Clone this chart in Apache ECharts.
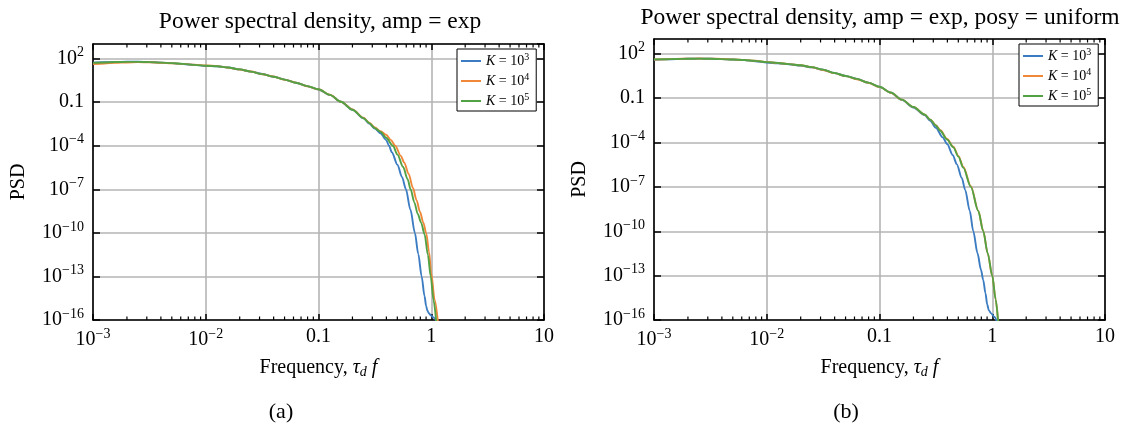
<!DOCTYPE html>
<html><head><meta charset="utf-8">
<script src="https://cdn.jsdelivr.net/npm/echarts@6/dist/echarts.min.js"></script>
<style>html,body{margin:0;padding:0;background:#fff}#c{width:1127px;height:431px}</style>
</head><body><div id="c"></div>
<script>
// ---------- data ----------
const seriesNames = ['K = 10^3', 'K = 10^4', 'K = 10^5'];
const kExponents = ['3', '4', '5'];
const panelTitles = ['Power spectral density, amp = exp', 'Power spectral density, amp = exp, posy = uniform'];
const panelCaptions = ['(a)', '(b)'];

// shared low-frequency grid (tau_d f)
const lowFreq = [0.001, 0.00126, 0.00158, 0.002, 0.00251, 0.00316, 0.00398, 0.00501, 0.00631, 0.00794,
  0.01, 0.0126, 0.0158, 0.02, 0.0251, 0.0316, 0.0398, 0.0501, 0.0631, 0.0794,
  0.1, 0.126, 0.158, 0.2, 0.251, 0.282];

// panel (a): amp = exp
const aK3LowPsd = [51, 55, 57.5, 60, 60, 57.5, 52.5, 47.9, 41.7, 36.3, 30.9, 29.5, 24.0, 17.8, 12.6, 8.7, 5.6, 3.55, 2.14, 1.26, 0.74, 0.316, 0.105, 0.030, 7.6e-3, 3.3e-3];
const aK4LowPsd = [41.7, 45.7, 50.1, 53.7, 56.2, 55.0, 51.3, 46.8, 42.7, 37.2, 33.1, 30.2, 23.4, 17.4, 12.9, 8.3, 5.75, 3.47, 2.19, 1.23, 0.76, 0.324, 0.107, 0.0316, 8.3e-3, 3.8e-3];
const aK5LowPsd = [50.1, 53.7, 57.5, 58.9, 58.9, 56.2, 52.5, 47.9, 42.7, 36.3, 31.6, 29.5, 24.0, 17.8, 12.6, 8.5, 5.6, 3.55, 2.14, 1.26, 0.76, 0.316, 0.105, 0.030, 7.8e-3, 3.55e-3];
const aK3TailFreq = [0.316, 0.355, 0.398, 0.422, 0.447, 0.501, 0.550, 0.596, 0.653, 0.716, 0.767, 0.822, 0.871, 0.902, 0.923, 0.955, 1.0, 1.059, 1.122];
const aK3TailPsd = [1.5e-3, 7.1e-4, 2.5e-4, 1e-4, 3.55e-5, 5.0e-6, 7.1e-7, 1e-7, 4.0e-9, 1e-10, 3.55e-12, 1e-13, 4.5e-15, 8.9e-16, 4.5e-16, 2.8e-16, 2.0e-16, 1.4e-16, 6.3e-17];
const aK4TailFreq = [0.316, 0.355, 0.398, 0.437, 0.479, 0.537, 0.575, 0.631, 0.687, 0.741, 0.794, 0.851, 0.904, 0.955, 1.0, 1.072, 1.148];
const aK4TailPsd = [1.78e-3, 1e-3, 5.6e-4, 2.5e-4, 1e-4, 2.0e-5, 7.1e-6, 1.12e-6, 1.26e-7, 1.78e-8, 2.8e-9, 5.0e-10, 8.9e-11, 5.0e-12, 1.58e-13, 2.5e-15, 6.3e-17];
const aK5TailFreq = [0.316, 0.355, 0.398, 0.457, 0.501, 0.562, 0.617, 0.656, 0.708, 0.759, 0.813, 0.873, 0.933, 0.989, 1.047, 1.109];
const aK5TailPsd = [1.62e-3, 8.9e-4, 3.55e-4, 1e-4, 2.5e-5, 3.55e-6, 5.0e-7, 1e-7, 1.26e-8, 2.0e-9, 5.0e-10, 7.9e-11, 3.16e-12, 1e-13, 2.5e-15, 6.3e-17];

// panel (b): amp = exp, posy = uniform
const bK3LowPsd = [39.8, 41.7, 43.7, 45.7, 46.8, 45.7, 43.7, 40.7, 37.2, 31.6, 25.7, 22.4, 19.5, 15.8, 12.0, 8.3, 5.0, 3.16, 2.0, 1.12, 0.575, 0.234, 0.076, 0.0234, 7.1e-3, 3.0e-3];
const bK4LowPsd = [40.7, 42.7, 44.7, 46.8, 47.9, 46.8, 44.7, 41.7, 38.0, 33.9, 28.2, 24.0, 20.0, 16.6, 12.3, 8.1, 4.9, 3.09, 1.91, 1.10, 0.575, 0.234, 0.079, 0.025, 7.9e-3, 3.55e-3];
const bK5LowPsd = [41.7, 42.7, 44.7, 45.7, 46.8, 45.7, 43.7, 40.7, 38.0, 33.1, 27.5, 24.0, 20.0, 16.6, 12.6, 8.5, 5.0, 3.16, 2.0, 1.12, 0.589, 0.240, 0.079, 0.025, 7.9e-3, 3.55e-3];
const bK3TailFreq = [0.316, 0.363, 0.398, 0.447, 0.484, 0.537, 0.575, 0.631, 0.679, 0.741, 0.794, 0.832, 0.871, 0.902, 0.933, 0.977, 1.047, 1.109];
const bK3TailPsd = [1.0e-3, 2.24e-4, 7.9e-5, 1.41e-5, 3.47e-6, 4.0e-7, 6.3e-8, 2.5e-9, 1e-10, 3.16e-12, 2.5e-13, 5.0e-14, 6.3e-15, 1.12e-15, 4.5e-16, 2.8e-16, 1.58e-16, 6.3e-17];
const bK4TailFreq = [0.316, 0.347, 0.398, 0.452, 0.501, 0.553, 0.646, 0.752, 0.832, 0.912, 1.0, 1.072, 1.130];
const bK4TailPsd = [1.48e-3, 6.8e-4, 1.74e-4, 5.2e-5, 1.26e-5, 2.34e-6, 1.12e-7, 2.5e-9, 1.05e-10, 3.16e-12, 1e-13, 2.5e-15, 6.3e-17];
const bK5TailFreq = [0.316, 0.344, 0.398, 0.452, 0.501, 0.553, 0.646, 0.752, 0.832, 0.912, 1.0, 1.072, 1.130];
const bK5TailPsd = [1.41e-3, 6.5e-4, 1.58e-4, 4.7e-5, 1.12e-5, 2.0e-6, 1e-7, 2.34e-9, 1e-10, 3.16e-12, 1e-13, 2.5e-15, 6.3e-17];

// axis ranges and minor tick positions (log x axis)
const xRange = [0.001, 10];
const yRange = [1e-16, 1e3];
const xMinorTicks = [0.002, 0.003, 0.004, 0.005, 0.006, 0.007, 0.008, 0.009,
  0.02, 0.03, 0.04, 0.05, 0.06, 0.07, 0.08, 0.09,
  0.2, 0.3, 0.4, 0.5, 0.6, 0.7, 0.8, 0.9,
  2, 3, 4, 5, 6, 7, 8, 9];

// ---------- chart ----------
const FONT = 'Liberation Serif';
const colors = ['#3b7cc2', '#f0883a', '#52a245'];
const gridBoxes = [
  {left: 93, top: 44, width: 451, height: 276},
  {left: 654, top: 39, width: 451, height: 281}
];
const panelData = [
  [[aK3LowPsd, aK3TailFreq, aK3TailPsd], [aK4LowPsd, aK4TailFreq, aK4TailPsd], [aK5LowPsd, aK5TailFreq, aK5TailPsd]],
  [[bK3LowPsd, bK3TailFreq, bK3TailPsd], [bK4LowPsd, bK4TailFreq, bK4TailPsd], [bK5LowPsd, bK5TailFreq, bK5TailPsd]]
];

function pairs(freqs, psds) { return freqs.map((f, i) => [f, psds[i]]); }

function powLabel(v) {
  const e = Math.round(Math.log10(v));
  if (e === -1) return '0.1';
  if (e === 0) return '1';
  if (e === 1) return '10';
  return '{b|10}{s|' + (e < 0 ? '\u2212' + (-e) : e) + '}';
}
const labelRich = {
  b: {fontFamily: FONT, fontSize: 20, color: '#000'},
  s: {fontFamily: FONT, fontSize: 14, color: '#000', padding: [0, 0, 12, 0]}
};
const tickStyle = {color: '#000', width: 1.5};
const lineAxis = {show: true, lineStyle: {color: '#000', width: 1.6}};

const xAxes = [], yAxes = [], series = [], legends = [], graphics = [];
gridBoxes.forEach((g, gi) => {
  const common = {gridIndex: gi, type: 'log', logBase: 10, min: xRange[0], max: xRange[1], interval: 1};
  xAxes.push(Object.assign({}, common, {
    position: 'bottom',
    axisLine: lineAxis,
    axisTick: {show: true, inside: true, length: 6, lineStyle: tickStyle},
    axisLabel: {formatter: powLabel, margin: 7, color: '#000', fontFamily: FONT, fontSize: 20, rich: labelRich},
    splitLine: {show: true, lineStyle: {color: '#b4b4b4', width: 1.6}},
    name: '{t|Frequency, }{i|\u03c4}{d|d}{i| f}',
    nameLocation: 'middle', nameGap: 37,
    nameTextStyle: {rich: {
      t: {fontFamily: FONT, fontSize: 20, color: '#000'},
      i: {fontFamily: FONT, fontSize: 20, fontStyle: 'italic', color: '#000'},
      d: {fontFamily: FONT, fontSize: 14, fontStyle: 'italic', color: '#000', padding: [8, 0, 0, 0]}
    }}
  }));
  xAxes.push(Object.assign({}, common, {
    position: 'top',
    axisLine: lineAxis,
    axisTick: {show: true, inside: true, length: 6, lineStyle: tickStyle},
    axisLabel: {show: false},
    splitLine: {show: false}
  }));
  const ycommon = {gridIndex: gi, type: 'log', logBase: 10, min: yRange[0], max: yRange[1], interval: 3};
  yAxes.push(Object.assign({}, ycommon, {
    position: 'left',
    axisLine: lineAxis,
    axisTick: {show: true, inside: true, length: 7, lineStyle: tickStyle},
    axisLabel: {formatter: powLabel, margin: 9, color: '#000', fontFamily: FONT, fontSize: 20, rich: labelRich, showMaxLabel: false},
    splitLine: {show: true, lineStyle: {color: '#b4b4b4', width: 1.6}},
    name: 'PSD', nameLocation: 'middle', nameGap: 64, nameRotate: 90,
    nameTextStyle: {fontFamily: FONT, fontSize: 20, color: '#000'}
  }));
  yAxes.push(Object.assign({}, ycommon, {
    position: 'right',
    axisLine: lineAxis,
    axisTick: {show: true, inside: true, length: 7, lineStyle: tickStyle},
    axisLabel: {show: false},
    splitLine: {show: false}
  }));
  const xi = gi * 2, yi = gi * 2;
  panelData[gi].forEach((d, si) => {
    const pts = pairs(lowFreq, d[0]).concat(pairs(d[1], d[2]));
    series.push({
      type: 'line', name: seriesNames[si], xAxisIndex: xi, yAxisIndex: yi,
      data: pts, symbol: 'none', smooth: 0.3, smoothMonotone: 'x', clip: true,
      lineStyle: {color: colors[si], width: 1.9}, itemStyle: {color: colors[si]},
      z: 3 + si
    });
  });
  series.push({
    type: 'custom', name: 'minor' + gi, xAxisIndex: xi, yAxisIndex: yi,
    data: xMinorTicks.map(f => [f, yRange[0]]), encode: {x: 0, y: 1}, silent: true, z: 10,
    renderItem: function (params, api) {
      const f = api.value(0);
      const b = api.coord([f, yRange[0]]);
      const t = api.coord([f, yRange[1]]);
      return {type: 'group', children: [
        {type: 'line', shape: {x1: b[0], y1: b[1], x2: b[0], y2: b[1] - 3.5}, style: {stroke: '#000', lineWidth: 1.2}},
        {type: 'line', shape: {x1: t[0], y1: t[1], x2: t[0], y2: t[1] + 3.5}, style: {stroke: '#000', lineWidth: 1.2}}
      ]};
    }
  });
  legends.push({
    data: seriesNames, orient: 'vertical',
    left: gi === 0 ? 457 : 1019, top: gi === 0 ? 49 : 44,
    backgroundColor: '#fff', borderColor: '#000', borderWidth: 1, borderRadius: 0,
    padding: [3, 7, 3, 4], itemGap: 4, itemWidth: 20, itemHeight: 2, icon: 'rect',
    selectedMode: false,
    formatter: name => '{k|K} {t|= 10}{s|' + kExponents[seriesNames.indexOf(name)] + '}',
    textStyle: {fontFamily: FONT, fontSize: 14, color: '#000', rich: {
      k: {fontFamily: FONT, fontSize: 14, fontStyle: 'italic', color: '#000'},
      t: {fontFamily: FONT, fontSize: 14, color: '#000'},
      s: {fontFamily: FONT, fontSize: 10, color: '#000', padding: [0, 0, 8, 0]}
    }}
  });
});

const titleCenters = [[320, 22], [880, 18]];
const captionCenters = [[281, 412], [846, 412]];
panelTitles.forEach((t, i) => graphics.push({
  type: 'text', x: titleCenters[i][0], y: titleCenters[i][1],
  style: {text: t, font: '23.5px "' + FONT + '"', fill: '#000', align: 'center', verticalAlign: 'middle'}
}));
panelCaptions.forEach((t, i) => graphics.push({
  type: 'text', x: captionCenters[i][0], y: captionCenters[i][1],
  style: {text: t, font: '22px "' + FONT + '"', fill: '#000', align: 'center', verticalAlign: 'middle'}
}));

const chart = echarts.init(document.getElementById('c'), null, {renderer: 'canvas'});
chart.setOption({
  animation: false,
  backgroundColor: '#fff',
  grid: gridBoxes,
  xAxis: xAxes,
  yAxis: yAxes,
  legend: legends,
  series: series,
  graphic: graphics
});
</script>
</body></html>
